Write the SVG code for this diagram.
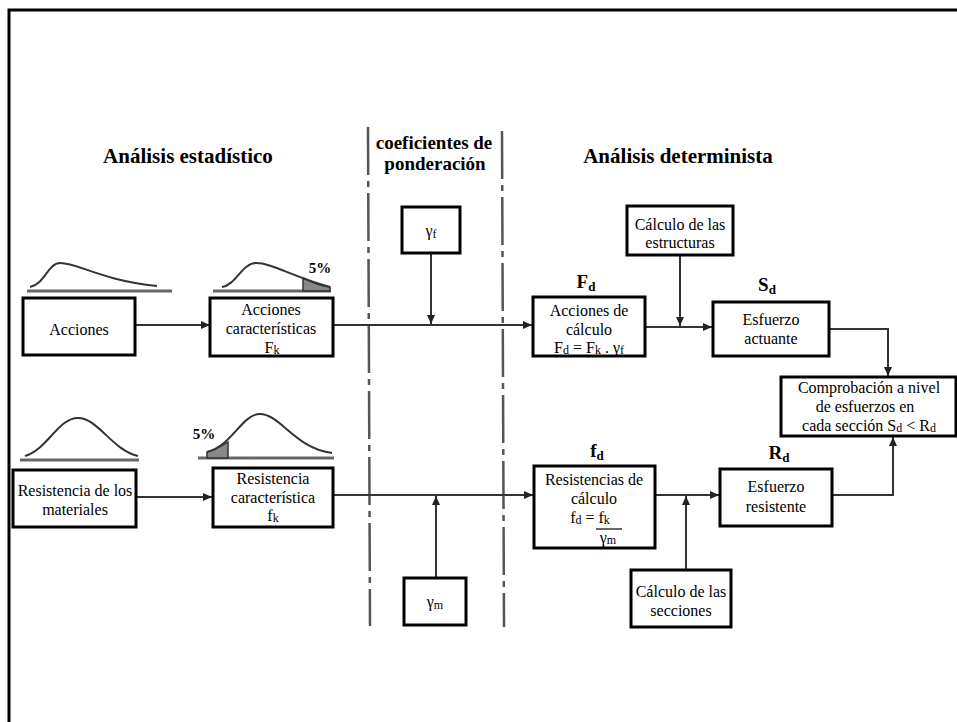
<svg xmlns="http://www.w3.org/2000/svg" width="957" height="722" viewBox="0 0 957 722" font-family="'Liberation Serif', Tinos, 'Times New Roman', 'DejaVu Serif', serif">
<defs>
<marker id="arr" markerWidth="9" markerHeight="8" refX="9" refY="4" orient="auto" markerUnits="userSpaceOnUse">
<path d="M0,0 L9,4 L0,8 z" fill="#222"/>
</marker>
<style>
text{font-family:'Liberation Serif', Tinos, 'Times New Roman', 'DejaVu Serif', serif}
.box{fill:#fff;stroke:#000;stroke-width:3}
.t{font-size:16px;fill:#000;text-anchor:middle}
.h{font-weight:bold;fill:#000;text-anchor:middle}
.lbl{font-weight:bold;font-size:19px;fill:#000;text-anchor:middle}
.sub{font-size:12px}
.c{fill:none;stroke:#333;stroke-width:2;marker-end:url(#arr)}
.dd{fill:none;stroke:#555;stroke-width:2.5;stroke-dasharray:48 6 6 6}
.curve{fill:none;stroke:#333;stroke-width:2}
.base{stroke:#666;stroke-width:3}
</style>
</defs>
<rect width="957" height="722" fill="#fff"/>
<path d="M957,10 H9 V722" fill="none" stroke="#000" stroke-width="3"/>

<g id="headings">
<text class="h" x="188" y="163" font-size="21">Análisis estadístico</text>
<text class="h" x="434" y="149" font-size="19">coeficientes de</text>
<text class="h" x="435" y="170" font-size="19">ponderación</text>
<text class="h" x="678" y="163" font-size="21">Análisis determinista</text>
</g>

<g id="dividers">
<line class="dd" x1="368" y1="127" x2="370" y2="626"/>
<line class="dd" x1="502" y1="131" x2="504" y2="627"/>
</g>

<g id="distributions">
<line class="base" x1="27" y1="291" x2="172" y2="291"/>
<path class="curve" d="M30,287 C44,285 48,263 60,263 C78,263 100,280 157,286"/>
<line class="base" x1="213" y1="291" x2="331" y2="291"/>
<path d="M303,278 C315,284 322,286 330,287 L330,291 L303,291 z" fill="#888" stroke="#333" stroke-width="1.5"/>
<path class="curve" d="M222,287 C236,285 242,263 256,263 C272,263 290,276 330,287"/>
<text class="h" x="320" y="273" font-size="15">5%</text>
<line class="base" x1="20" y1="460" x2="139" y2="460"/>
<path class="curve" d="M25,456 C47,450 58,418 78,418 C98,418 112,450 138,456"/>
<line class="base" x1="198" y1="458" x2="334" y2="458"/>
<path d="M207,452 C214,450 222,446 228,442 L228,458 L207,458 z" fill="#888" stroke="#333" stroke-width="1.5"/>
<path class="curve" d="M207,452 C232,446 242,414 260,414 C280,414 296,449 332,453"/>
<text class="h" x="204" y="439" font-size="15">5%</text>
</g>

<g id="connectors">
<path class="c" d="M136,325 H210"/>
<path class="c" d="M333,325 H532"/>
<path class="c" d="M431,253 V324"/>
<path class="c" d="M645,327 H712"/>
<path class="c" d="M680,255 V326"/>
<path class="c" d="M829,329 H888 V376"/>
<path class="c" d="M136,497 H212"/>
<path class="c" d="M333,495 H533"/>
<path class="c" d="M436,578 V496"/>
<path class="c" d="M655,495 H719"/>
<path class="c" d="M686,570 V496"/>
<path class="c" d="M832,495 H893 V437"/>
</g>

<g id="acciones">
<rect class="box" x="23" y="298" width="112" height="57"/>
<text class="t" x="79" y="335">Acciones</text>
</g>

<g id="acciones-caracteristicas">
<rect class="box" x="210" y="298" width="123" height="58"/>
<text class="t" x="271" y="315">Acciones</text>
<text class="t" x="271" y="334">características</text>
<text class="t" x="272" y="353">F<tspan class="sub" dy="1">k</tspan></text>
</g>

<g id="gamma-f">
<rect class="box" x="402" y="207" width="58" height="46"/>
<text class="t" x="431" y="236">γ<tspan class="sub" dy="2">f</tspan></text>
</g>

<g id="acciones-calculo">
<text class="lbl" x="586" y="288">F<tspan font-size="13" dy="3">d</tspan></text>
<rect class="box" x="533" y="297" width="112" height="59"/>
<text class="t" x="589" y="316">Acciones de</text>
<text class="t" x="589" y="335">cálculo</text>
<text class="t" x="589" y="353">F<tspan class="sub" dy="1">d</tspan><tspan dy="-1"> = F</tspan><tspan class="sub" dy="1">k</tspan><tspan dy="-1"> . γ</tspan><tspan class="sub" dy="1">f</tspan></text>
</g>

<g id="calculo-estructuras">
<rect class="box" x="627" y="206" width="106" height="49"/>
<text class="t" x="680" y="230">Cálculo de las</text>
<text class="t" x="680" y="248">estructuras</text>
</g>

<g id="esfuerzo-actuante">
<text class="lbl" x="767" y="291">S<tspan font-size="13" dy="3">d</tspan></text>
<rect class="box" x="713" y="302" width="116" height="54"/>
<text class="t" x="771" y="325">Esfuerzo</text>
<text class="t" x="771" y="344">actuante</text>
</g>

<g id="comprobacion">
<rect class="box" x="781" y="377" width="175" height="59"/>
<text class="t" x="869" y="393">Comprobación a nivel</text>
<text class="t" x="865" y="412">de esfuerzos en</text>
<text class="t" x="869" y="431">cada sección S<tspan class="sub" dy="1">d</tspan><tspan dy="-1"> &lt; R</tspan><tspan class="sub" dy="1">d</tspan></text>
</g>

<g id="resistencia-materiales">
<rect class="box" x="13" y="470" width="123" height="57"/>
<text class="t" x="75" y="496">Resistencia de los</text>
<text class="t" x="75" y="515">materiales</text>
</g>

<g id="resistencia-caracteristica">
<rect class="box" x="213" y="468" width="120" height="59"/>
<text class="t" x="273" y="484">Resistencia</text>
<text class="t" x="273" y="503">característica</text>
<text class="t" x="273" y="521">f<tspan class="sub" dy="1">k</tspan></text>
</g>

<g id="gamma-m">
<rect class="box" x="404" y="578" width="62" height="47"/>
<text class="t" x="435" y="607">γ<tspan class="sub" dy="2">m</tspan></text>
</g>

<g id="resistencias-calculo">
<text class="lbl" x="597" y="457">f<tspan font-size="13" dy="3">d</tspan></text>
<rect class="box" x="534" y="466" width="121" height="82"/>
<text class="t" x="594" y="485">Resistencias de</text>
<text class="t" x="594" y="504">cálculo</text>
<text class="t" x="590" y="523">f<tspan class="sub" dy="1">d</tspan><tspan dy="-1"> =  f</tspan><tspan class="sub" dy="1">k</tspan></text>
<line x1="596" y1="529" x2="622" y2="529" stroke="#000" stroke-width="1.2"/>
<text class="t" x="608" y="543">γ<tspan class="sub" dy="1">m</tspan></text>
</g>

<g id="calculo-secciones">
<rect class="box" x="631" y="570" width="100" height="57"/>
<text class="t" x="681" y="597">Cálculo de las</text>
<text class="t" x="681" y="616">secciones</text>
</g>

<g id="esfuerzo-resistente">
<text class="lbl" x="779" y="459">R<tspan font-size="13" dy="3">d</tspan></text>
<rect class="box" x="720" y="469" width="112" height="57"/>
<text class="t" x="776" y="492">Esfuerzo</text>
<text class="t" x="776" y="512">resistente</text>
</g>
</svg>
